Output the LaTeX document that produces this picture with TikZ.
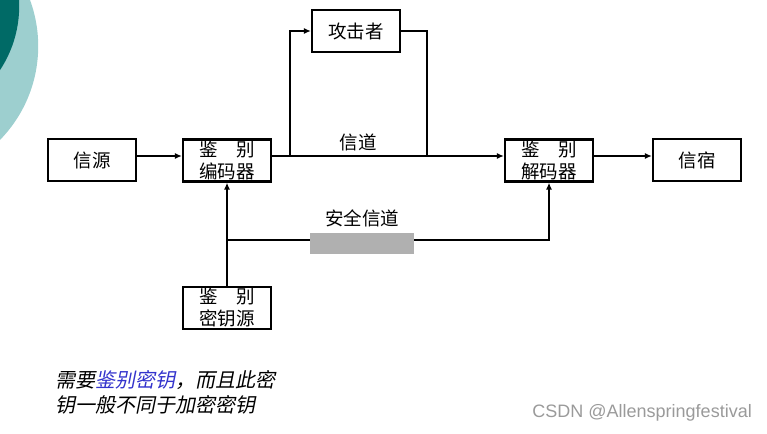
\documentclass[tikz,border=0pt]{standalone}
\usepackage{fontspec}
\setmainfont{Liberation Sans}
\newfontfamily\cjk{Noto Sans CJK SC}
\newfontfamily\cjkit[FakeSlant=0.2]{Noto Sans CJK SC}
\usetikzlibrary{arrows.meta}
\definecolor{darkteal}{HTML}{006A66}
\definecolor{lightteal}{HTML}{9DCFCF}
\definecolor{barfill}{HTML}{B0B0B0}
\definecolor{keyblue}{HTML}{3333CC}
\definecolor{wmgray}{HTML}{9A9A9A}
\begin{document}
\begin{tikzpicture}[x=1pt,y=-1pt,
  blk/.style={draw=black, line width=2.2pt, minimum width=88pt, minimum height=42pt,
    inner sep=0pt, font=\cjk\fontsize{18.5}{22}\selectfont, align=center},
  conn/.style={line width=1.8pt},
  arr/.style={conn, -{Latex[length=7pt,width=6pt]}},
  lbl/.style={font=\cjk\fontsize{18.5}{22}\selectfont, inner sep=0pt}]
\useasboundingbox (0,0) rectangle (767,433);
% decorative circles
\begin{scope}
  \clip (0,0) rectangle (767,433);
  \fill[lightteal] (-95.9,46.2) circle[radius=134.1];
  \fill[darkteal] (-97,6.1) circle[radius=116.2];
\end{scope}
% blocks
\node[blk] (src) at (92,160) {信源};
\node[blk] (enc) at (227,160.5) {鉴\hspace{1em}别\\编码器};
\node[blk] (att) at (356,31) {攻击者};
\node[blk] (dec) at (549,160.5) {鉴\hspace{1em}别\\解码器};
\node[blk] (dst) at (697,160) {信宿};
\node[blk] (key) at (227,308) {鉴\hspace{1em}别\\密钥源};
% helper coordinates
\coordinate (m) at (0,156);
\coordinate (b1) at (290,156);
\coordinate (b2) at (427,156);
\coordinate (k) at (228,240);
% connectors
\draw[arr] (src.east |- m) -- (enc.west |- m);
\draw[arr] (enc.east |- m) -- (dec.west |- m);
\draw[arr] (dec.east |- m) -- (dst.west |- m);
\draw[arr] (b1) |- (att.west);
\draw[conn] (att.east) -| (b2);
\draw[arr] (key.north) -- (enc.south);
\draw[arr] (k) -| (dec.south);
% secure channel bar
\node[fill=barfill, minimum width=104pt, minimum height=21pt, inner sep=0pt] (sec) at (362,243.5) {};
% labels
\node[lbl] (ch) at (358,142) {信道};
\node[lbl] (sch) at (362,218) {安全信道};
\node[anchor=west, align=left, inner sep=0pt, font=\cjkit\fontsize{20}{25}\selectfont] (note) at (55,392)
  {需要{\color{keyblue}鉴别密钥}，而且此密\\钥一般不同于加密密钥};
\node[anchor=east, inner sep=0pt, text=wmgray, font=\fontsize{18}{20}\selectfont] (wm) at (752,413) {CSDN @Allenspringfestival};
\end{tikzpicture}
\end{document}
